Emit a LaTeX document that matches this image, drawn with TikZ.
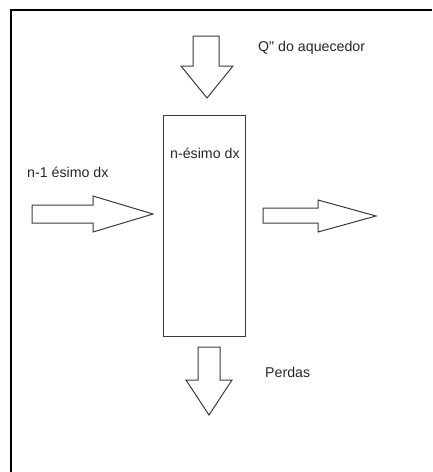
\documentclass[tikz,border=0pt]{standalone}
\usepackage{fontspec}
\setmainfont{Liberation Sans}
\definecolor{linegray}{HTML}{3A3A3A}
\definecolor{textgray}{HTML}{262626}

\begin{document}
\begin{tikzpicture}[x=1pt, y=-1pt,
			blockarrow/.style = {draw=linegray, line width=1pt, line join=miter},
			label/.style = {anchor=west, inner sep=0pt, text=textgray,
				font=\fontsize{14.2}{17}\selectfont},
			every node/.style = {shape=rectangle}]
		\useasboundingbox (0,0) rectangle (432,472);
		% frame (cut off at right and bottom)
		\draw[line width=2pt] (11,472) -- (11,10) -- (432,10);
		% the slice
		\node[draw=linegray, line width=1pt, minimum width=82pt, minimum height=221pt,
			inner sep=0pt] (slice) at (204,225.5) {};
		\node[label] (nth) at (170,153) {n-ésimo dx};
		% heat in from the top
		\draw[blockarrow] (193,36) -- (219,36) -- (219,66) -- (233,66) -- (207,98)
			-- (181,66) -- (193,66) -- cycle;
		\node[label] (heater) at (258,48) {Q\textquotedbl{} do aquecedor};
		% previous slice
		\draw[blockarrow] (32,205) -- (93,205) -- (93,196) -- (153,214) -- (93,232)
			-- (93,223) -- (32,223) -- cycle;
		\node[label] (prev) at (27,172) {n-1 ésimo dx};
		% next slice
		\draw[blockarrow] (263,208) -- (318,208) -- (318,200) -- (376,216) -- (318,232)
			-- (318,223) -- (263,223) -- cycle;
		% losses
		\draw[blockarrow] (198,347) -- (220,347) -- (220,380) -- (232,380) -- (209,415)
			-- (186,380) -- (198,380) -- cycle;
		\node[label] (loss) at (265,372) {Perdas};
\end{tikzpicture}
\end{document}
